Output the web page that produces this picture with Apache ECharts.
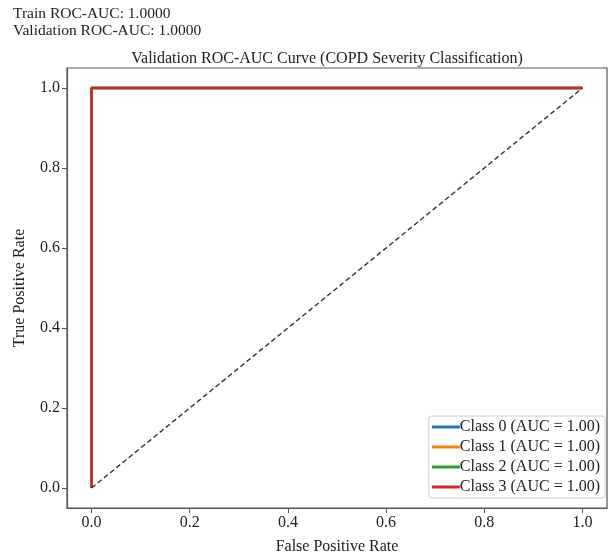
<!DOCTYPE html>
<html>
<head>
<meta charset="utf-8">
<script src="https://cdn.jsdelivr.net/npm/echarts@6/dist/echarts.min.js"></script>
<style>
    html, body { margin: 0; padding: 0; background: #fff; }
    #chart { width: 610px; height: 558px; }
</style>
</head>
<body>
<div id="chart"></div>
<script>
    // data
    var classNames = ['Class 0 (AUC = 1.00)', 'Class 1 (AUC = 1.00)', 'Class 2 (AUC = 1.00)', 'Class 3 (AUC = 1.00)'];
    var classColors = ['#1f77b4', '#ff7f0e', '#2ca02c', '#d62728'];
    var fpr = [0, 0, 1];
    var tpr = [0, 1, 1];
    var diagX = [0, 1];
    var diagY = [0, 1];
    var tickValues = [0, 0.2, 0.4, 0.6, 0.8, 1.0];

    var fontFamily = '"Liberation Serif", "DejaVu Serif", serif';
    var chart = echarts.init(document.getElementById('chart'));

    function toPoints(xs, ys) {
        return xs.map(function (x, i) { return [x, ys[i]]; });
    }

    var series = classNames.map(function (name, i) {
        return {
            name: name,
            type: 'line',
            data: toPoints(fpr, tpr),
            showSymbol: false,
            lineStyle: { color: classColors[i], width: 2.5 },
            itemStyle: { color: classColors[i] },
            z: 3 + i
        };
    });
    series.push({
        name: 'diag',
        type: 'line',
        data: toPoints(diagX, diagY),
        showSymbol: false,
        lineStyle: { color: '#333', width: 1.4, type: [5, 3] },
        z: 10
    });

    var axisCommon = {
        type: 'value',
        min: -0.05,
        max: 1.05,
        splitLine: { show: false },
        axisLine: { show: true, onZero: false, lineStyle: { color: '#555', width: 1.2 } },
        axisTick: { show: true, customValues: tickValues, length: 5, lineStyle: { color: '#555' } },
        axisLabel: {
            customValues: tickValues,
            color: '#222',
            fontFamily: fontFamily,
            fontSize: 16,
            margin: 7,
            formatter: function (v) { return v.toFixed(1); }
        },
        nameLocation: 'middle',
        nameTextStyle: { color: '#222', fontFamily: fontFamily, fontSize: 16 }
    };

    var option = {
        animation: false,
        backgroundColor: '#fff',
        title: [{
            text: 'Train ROC-AUC: 1.0000',
            left: 8, top: 1,
            textStyle: { fontFamily: fontFamily, fontSize: 15.5, fontWeight: 'normal', color: '#222' }
        }, {
            text: 'Validation ROC-AUC: 1.0000',
            left: 8, top: 18,
            textStyle: { fontFamily: fontFamily, fontSize: 15.5, fontWeight: 'normal', color: '#222' }
        }, {
            text: 'Validation ROC-AUC Curve (COPD Severity Classification)',
            left: 322, top: 46, textAlign: 'center',
            textStyle: { fontFamily: fontFamily, fontSize: 16, fontWeight: 'normal', color: '#222' }
        }],
        grid: {
            left: 67, right: 3, top: 68, bottom: 50,
            outerBoundsMode: 'none',
            show: true, borderColor: '#555', borderWidth: 1.2
        },
        xAxis: Object.assign({}, axisCommon, {
            name: 'False Positive Rate',
            nameGap: 31
        }),
        yAxis: Object.assign({}, axisCommon, {
            name: 'True Positive Rate',
            nameGap: 39
        }),
        legend: {
            data: classNames.map(function (n, i) {
                return { name: n, itemStyle: { color: classColors[i] } };
            }),
            orient: 'vertical',
            right: 5, bottom: 60,
            icon: 'rect',
            itemWidth: 28, itemHeight: 3,
            itemGap: 4,
            padding: [3, 5, 3, 3],
            backgroundColor: 'rgba(255,255,255,0.85)',
            borderColor: '#ccc', borderWidth: 1, borderRadius: 3,
            textStyle: { fontFamily: fontFamily, fontSize: 16, color: '#222', padding: [0, 0, 0, -5] }
        },
        series: series
    };

    chart.setOption(option);
</script>
</body>
</html>
